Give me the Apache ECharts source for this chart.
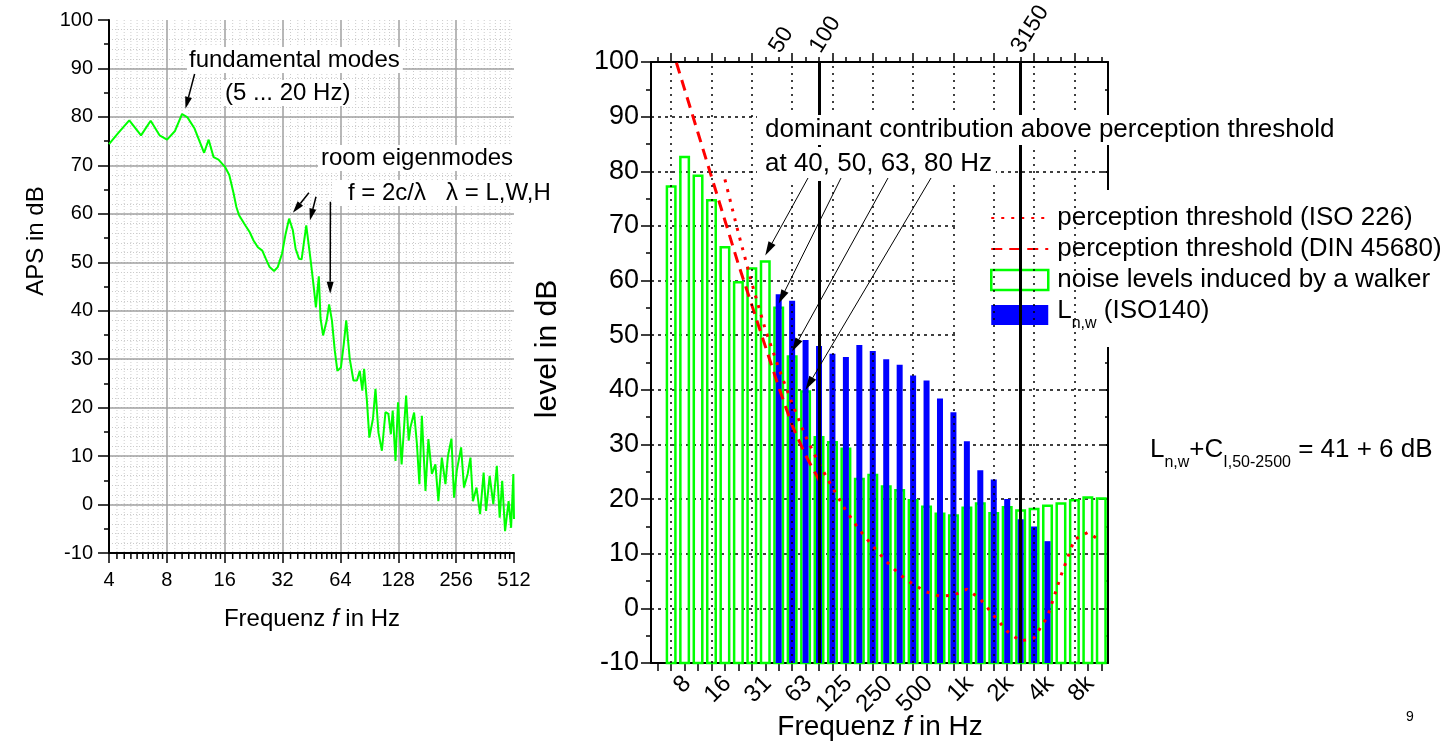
<!DOCTYPE html>
<html><head><meta charset="utf-8">
<script src="https://cdn.jsdelivr.net/npm/echarts@6/dist/echarts.min.js"></script>
<style>html,body{margin:0;padding:0;background:#fff}#c{width:1448px;height:742px}</style>
</head><body><div id="c"></div>
<script>
// ---------- Left chart: APS spectrum (frequency in Hz, level in dB) ----------
const apsFreq = [4.0,4.45,5.1,5.87,6.59,7.33,8.02,8.82,9.6,10.24,11.15,12.5,13.2,14.0,14.86,16.04,16.9,17.8,18.4,19.0,
  20.5,21.6,22.6,23.8,25.1,26.2,27.4,28.9,30.2,31.8,33.2,34.6,36.2,37.4,39.0,40.2,42.5,43.3,44.8,46.7,
  47.7,49.4,50.4,52.0,54.3,55.9,57.8,59.8,61.7,64.4,66.6,68.6,71.6,74.8,78.0,80.7,83.2,85.0,87.9,90.5,
  94.5,97.4,100.9,105.2,109.8,113.7,117.1,119.7,123.8,127.6,133.2,140.6,145,148,154.7,160,164.8,169.8,177.3,183.6,
  191.4,199.7,206.9,215.7,225.2,232,242,249.6,258,271.7,281.3,293.8,303.8,313,326.7,341,355.8,366.5,382.6,399.5,
  416.7,431.3,444.5,460,480,494.5,508,512];
const apsLevel = [74.4,76.6,79.3,76.2,79.2,76.2,75.3,77.1,80.6,79.9,77.6,72.6,75.3,71.7,71.2,69.7,68.0,64.2,61.4,59.7,
  57.6,56.2,54.5,53.1,52.4,50.7,49.0,48.2,49.0,51.8,55.9,59.0,56.6,52.8,50.7,50.6,57.6,57.8,50.4,44.2,
  40.7,47.1,38.5,34.9,38.0,41.3,38.0,31.8,27.6,28.3,33.1,38.0,30.0,25.6,25.6,27.6,23.5,28.0,21.4,13.8,
  17.7,23.9,14.9,11.1,19.1,18.7,14.5,19.4,9.0,21.1,8.3,22.5,13.2,15.9,19.0,12.5,4.2,18.3,2.8,13.5,
  6.3,8.3,0.7,9.7,4.2,10.0,13.6,1.4,7.0,11.8,3.5,6.3,9.7,0.7,3.5,-2.0,6.6,-1.3,5.9,0.1,
  8.0,-2.7,4.9,-5.5,0.7,-4.8,6.3,-3.0];
const leftOctaves = [4, 8, 16, 32, 64, 128, 256];
const leftMinorSteps = [1.1, 1.2, 1.3, 1.4, 1.5, 1.6, 1.7, 1.8, 1.9];

// ---------- Right chart: third-octave bands ----------
const bands = ['6.3','8','10','12.5','16','20','25','31.5','40','50','63','80','100','125','160','200','250','315','400','500',
  '630','800','1000','1250','1600','2000','2500','3150','4000','5000','6300','8000','10000','12500'];
const bottomTickLabels = {'8':'8','16':'16','31.5':'31','63':'63','125':'125','250':'250','500':'500','1000':'1k','2000':'2k','4000':'4k','8000':'8k'};
const topTickLabels = {'50':'50','100':'100','3150':'3150'};
const octaveBands = ['8','16','31.5','63','125','250','500','1000','2000','4000','8000'];
const markerBands = ['100','3150'];
const walkerLevels = [null,77.2,82.6,79.2,74.7,66.1,59.7,62.2,63.5,55.0,46.1,39.7,31.3,30.4,29.2,23.7,24.4,22.3,21.6,19.8,
  18.6,17.3,17.0,18.4,19.2,17.4,18.5,17.9,18.2,18.8,19.2,19.8,20.3,20.1];
const lnwLevels = [null,null,null,null,null,null,null,null,null,57.5,56.3,49.1,48.0,46.6,46.0,48.2,47.1,45.6,44.6,42.6,
  41.7,38.4,35.9,30.6,25.3,23.6,20.0,16.3,15.0,12.3,null,null,null,null];
const iso226 = [null,null,null,null,null,78.5,68.7,59.5,51.1,44.0,37.5,31.5,26.5,22.1,17.9,14.4,11.4,8.6,6.2,4.4,
  3.0,2.2,2.4,3.5,1.7,-1.3,-4.2,-6.0,-5.4,-1.5,6.0,12.6,13.9,12.3];
const din45680 = [null,103,95,87,79,71,63,55.5,48,40.5,33.5,28,23.5,null,null,null,null,null,null,null,
  null,null,null,null,null,null,null,null,null,null,null,null,null,null];

const FONT = '"Liberation Sans", Arial, Helvetica, sans-serif';
const N_ISO = 'perception threshold (ISO 226)';
const N_DIN = 'perception threshold (DIN 45680)';
const N_WALK = 'noise levels induced by a walker';
const N_LNW = 'Ln,w (ISO140)';
const GREEN = '#00ff00', BLUE = '#0000ff', RED = '#ff0000';

const chart = echarts.init(document.getElementById('c'), null, {renderer: 'canvas'});

const minorFreqs = [];
leftOctaves.forEach(o => leftMinorSteps.forEach(s => minorFreqs.push([o * s, 0])));

function barRenderer(width, filled) {
  return function (params, api) {
    const v = api.value(1);
    if (v == null || isNaN(v)) return null;
    const t = api.coord([api.value(0), v]);
    const b = api.coord([api.value(0), -10]);
    return {
      type: 'rect',
      shape: {x: t[0] - width / 2, y: t[1], width: width, height: b[1] - t[1]},
      style: filled ? {fill: BLUE, stroke: null} : {fill: 'none', stroke: GREEN, lineWidth: 2.5}
    };
  };
}

const blackAxis = {show: true, onZero: false, lineStyle: {color: '#000', width: 2}};
const noSplit = {show: false};
const hiddenSymbol = {color: 'rgba(0,0,0,0)', borderColor: 'rgba(0,0,0,0)', borderWidth: 0};

const option = {
  animation: false,
  backgroundColor: '#fff',
  textStyle: {fontFamily: FONT},
  grid: [
    {left: 109, top: 20, width: 405, height: 533, outerBoundsMode: 'none'},
    {left: 651, top: 62, width: 457, height: 601, outerBoundsMode: 'none'},
    {left: 667, top: 62, width: 457, height: 601, outerBoundsMode: 'none'},
    {left: 647, top: 62, width: 457, height: 601, outerBoundsMode: 'none'}
  ],
  legend: {
    orient: 'vertical', left: 957, top: 190, padding: [15, 10, 15, 33], itemGap: 5,
    itemWidth: 57, itemHeight: 20, backgroundColor: '#fff', selectedMode: false,
    data: [
      {name: N_ISO, itemStyle: hiddenSymbol},
      {name: N_DIN, itemStyle: hiddenSymbol},
      {name: N_WALK, icon: 'rect', itemStyle: {color: 'rgba(0,0,0,0)', borderColor: GREEN, borderWidth: 2.5}},
      {name: N_LNW, icon: 'rect', itemStyle: {color: BLUE, borderWidth: 0}}
    ],
    formatter: function (name) {
      if (name === N_LNW) return '{m|L}{s|n,w}{m2| (ISO140)}';
      return '{m|' + name + '}';
    },
    textStyle: {
      color: '#000', fontSize: 26, fontFamily: FONT,
      rich: {
        m: {fontSize: 26, fontFamily: FONT, color: '#000', verticalAlign: 'top', padding: [0, 0, 0, 4]},
        m2: {fontSize: 26, fontFamily: FONT, color: '#000', verticalAlign: 'top'},
        s: {fontSize: 16, fontFamily: FONT, color: '#000', verticalAlign: 'top', padding: [18, 0, 0, 0]}
      }
    }
  },
  xAxis: [
    { // 0 left chart log frequency axis
      type: 'log', logBase: 2, gridIndex: 0, min: 4, max: 512, position: 'bottom',
      axisLine: blackAxis,
      axisTick: {show: true, length: 10, lineStyle: {color: '#000', width: 1.5}},
      axisLabel: {fontSize: 20, color: '#000', fontFamily: FONT, margin: 17, formatter: v => String(Math.round(v))},
      splitLine: {show: true, showMinLine: false, showMaxLine: false, lineStyle: {color: '#a0a0a0', width: 1.5}},
      minorTick: {show: false}, minorSplitLine: {show: false}
    },
    { // 1 right chart bottom axis (ticks)
      type: 'category', gridIndex: 1, data: bands, position: 'bottom', boundaryGap: true,
      axisLine: blackAxis,
      axisTick: {show: true, alignWithLabel: true, interval: 0, length: 8, lineStyle: {color: '#000', width: 1.5}},
      axisLabel: {show: false}, splitLine: noSplit
    },
    { // 2 right chart top axis (short ticks)
      type: 'category', gridIndex: 1, data: bands, position: 'top', boundaryGap: true,
      axisLine: blackAxis,
      axisTick: {show: true, alignWithLabel: true, interval: 0, length: 5, lineStyle: {color: '#000', width: 1.5}},
      axisLabel: {show: false}, splitLine: noSplit
    },
    { // 3 right chart top axis (octave long ticks)
      type: 'category', gridIndex: 1, data: bands, position: 'top', boundaryGap: true,
      axisLine: {show: false, onZero: false},
      axisTick: {show: true, alignWithLabel: true, interval: (i, v) => octaveBands.indexOf(v) >= 0, length: 9, lineStyle: {color: '#000', width: 1.5}},
      axisLabel: {show: false}, splitLine: noSplit
    },
    { // 4 bottom rotated labels
      type: 'category', gridIndex: 2, data: bands, position: 'bottom', boundaryGap: true,
      axisLine: {show: false, onZero: false}, axisTick: {show: false}, splitLine: noSplit,
      axisLabel: {show: true, interval: (i, v) => v in bottomTickLabels, formatter: v => bottomTickLabels[v] || '',
        rotate: 45, margin: 17, fontSize: 24, color: '#000', fontFamily: FONT}
    },
    { // 5 top rotated labels
      type: 'category', gridIndex: 3, data: bands, position: 'top', boundaryGap: true,
      axisLine: {show: false, onZero: false}, axisTick: {show: false}, splitLine: noSplit,
      axisLabel: {show: true, interval: (i, v) => v in topTickLabels, formatter: v => topTickLabels[v] || '',
        rotate: -58, margin: 11, fontSize: 23, color: '#000', fontFamily: FONT}
    }
  ],
  yAxis: [
    { // 0 left chart level
      type: 'value', gridIndex: 0, min: -10, max: 100, interval: 10, position: 'left',
      axisLine: blackAxis,
      axisTick: {show: true, length: 11, lineStyle: {color: '#000', width: 1.5}},
      minorTick: {show: true, splitNumber: 2, length: 5, lineStyle: {color: '#000', width: 1.5}},
      axisLabel: {fontSize: 20, color: '#000', fontFamily: FONT, margin: 16},
      splitLine: {show: true, showMinLine: false, showMaxLine: false, lineStyle: {color: '#a0a0a0', width: 1.5}}
    },
    { // 1 left chart minor dotted grid
      type: 'value', gridIndex: 0, min: -10, max: 100, interval: 2, position: 'right', z: -1,
      axisLine: {show: false}, axisTick: {show: false}, axisLabel: {show: false},
      splitLine: {show: true, showMinLine: false, showMaxLine: false, lineStyle: {color: '#cccccc', width: 1, type: [1, 2]}}
    },
    { // 2 right chart level
      type: 'value', gridIndex: 1, min: -10, max: 100, interval: 10, position: 'left',
      axisLine: blackAxis,
      axisTick: {show: true, length: 10, lineStyle: {color: '#000', width: 1.5}},
      minorTick: {show: true, splitNumber: 2, length: 5, lineStyle: {color: '#000', width: 1.5}},
      axisLabel: {fontSize: 27, color: '#000', fontFamily: FONT, margin: 12},
      splitLine: {show: true, showMinLine: false, showMaxLine: false, lineStyle: {color: '#000', width: 1.5, type: [3, 4]}}
    },
    { // 3 right chart right border
      type: 'value', gridIndex: 1, min: -10, max: 100, interval: 10, position: 'right',
      axisLine: blackAxis,
      axisTick: {show: true, inside: true, length: 6, lineStyle: {color: '#000', width: 1.5}},
      minorTick: {show: true, splitNumber: 2, length: 3, lineStyle: {color: '#000', width: 1.5}},
      axisLabel: {show: false}, splitLine: noSplit
    },
    {type: 'value', gridIndex: 2, min: -10, max: 100, show: false},
    {type: 'value', gridIndex: 3, min: -10, max: 100, show: false}
  ],
  series: [
    {
      type: 'line', name: 'APS', xAxisIndex: 0, yAxisIndex: 0,
      data: apsFreq.map((f, i) => [f, apsLevel[i]]),
      symbol: 'none', lineStyle: {color: GREEN, width: 2}, itemStyle: {color: GREEN}, z: 3, silent: true
    },
    {
      type: 'custom', name: 'minor', xAxisIndex: 0, yAxisIndex: 0, data: minorFreqs, z: -1, silent: true,
      renderItem: function (params, api) {
        const f = api.value(0);
        const b = api.coord([f, -10]);
        const t = api.coord([f, 100]);
        return {type: 'group', children: [
          {type: 'line', shape: {x1: b[0], y1: t[1], x2: b[0], y2: b[1]}, style: {stroke: '#cccccc', lineWidth: 1, lineDash: [1, 2]}},
          {type: 'line', shape: {x1: b[0], y1: b[1], x2: b[0], y2: b[1] + 6}, style: {stroke: '#000', lineWidth: 1.5}}
        ]};
      }
    },
    {
      type: 'line', name: 'octaveGrid', xAxisIndex: 1, yAxisIndex: 2, data: [], z: 1, silent: true,
      markLine: {silent: true, symbol: ['none', 'none'], label: {show: false}, animation: false,
        lineStyle: {color: '#000', width: 1.5, type: [2, 5]},
        emphasis: {disabled: true},
        data: octaveBands.map(b => ({xAxis: b}))}
    },
    {
      type: 'custom', name: N_WALK, xAxisIndex: 1, yAxisIndex: 2,
      data: bands.map((b, i) => [b, walkerLevels[i]]).filter(d => d[1] != null),
      itemStyle: {color: 'rgba(0,0,0,0)', borderColor: GREEN, borderWidth: 2.5},
      renderItem: barRenderer(8.5, false), z: 2, silent: true
    },
    {
      type: 'custom', name: N_LNW, xAxisIndex: 1, yAxisIndex: 2,
      data: bands.map((b, i) => [b, lnwLevels[i]]).filter(d => d[1] != null),
      itemStyle: {color: BLUE},
      renderItem: barRenderer(6, true), z: 2, silent: true
    },
    {
      type: 'line', name: N_ISO, xAxisIndex: 1, yAxisIndex: 2, data: iso226,
      symbol: 'none', lineStyle: {color: RED, width: 3, type: [3, 7]}, itemStyle: {color: RED}, z: 3, silent: true
    },
    {
      type: 'line', name: N_DIN, xAxisIndex: 1, yAxisIndex: 2, data: din45680,
      symbol: 'none', lineStyle: {color: RED, width: 3, type: [11, 7]}, itemStyle: {color: RED}, z: 3, silent: true
    },
    {
      type: 'line', name: 'markers', xAxisIndex: 1, yAxisIndex: 2, data: [], z: 5, silent: true,
      markLine: {silent: true, symbol: ['none', 'none'], label: {show: false}, animation: false,
        lineStyle: {color: '#000', width: 3, type: 'solid'},
        emphasis: {disabled: true},
        data: markerBands.map(b => ({xAxis: b}))}
    }
  ]
};
chart.setOption(option);

// ---------- annotations ----------
function arrow(x1, y1, x2, y2, lw, hl, hw) {
  const a = Math.atan2(y2 - y1, x2 - x1);
  const bx = x2 - hl * Math.cos(a), by = y2 - hl * Math.sin(a);
  const px = -Math.sin(a) * hw, py = Math.cos(a) * hw;
  return [
    {type: 'line', z: 101, silent: true, shape: {x1: x1, y1: y1, x2: bx, y2: by}, style: {stroke: '#000', lineWidth: lw}},
    {type: 'polygon', z: 101, silent: true, shape: {points: [[x2, y2], [bx + px, by + py], [bx - px, by - py]]}, style: {fill: '#000'}}
  ];
}
function label(text, x, y, size, pad, bg, extra) {
  const st = Object.assign({text: text, x: 0, y: 0, font: size + 'px ' + FONT, fill: '#000',
    align: 'left', verticalAlign: 'middle'}, extra || {});
  if (bg) { st.backgroundColor = '#fff'; st.padding = pad; }
  return {type: 'text', x: x, y: y, z: 100, silent: true, style: st};
}
const L = {xAxisIndex: 0, yAxisIndex: 0};
const R = {xAxisIndex: 1, yAxisIndex: 2};
const leftArrowTips = [[10.0, 81.7], [36.2, 60.2], [44.4, 58.6], [56.6, 43.5]];
const leftArrowTails = [[194.6, 74], [308.9, 192.7], [316, 196.7], [330.4, 201.7]];
const rightArrowTips = [['40', 64.6], ['50', 55.8], ['63', 47], ['80', 40]];
const rightArrowTails = [[808, 178], [841, 178], [888, 178], [931, 178]];

const g = [];
g.push(label('fundamental modes', 187, 60, 24, [1, 3, 1, 2], true));
g.push(label('(5 ... 20 Hz)', 223, 93, 24, [1, 3, 1, 2], true));
g.push(label('room eigenmodes', 318, 158, 24, [1, 3, 1, 3], true));
g.push(label('f = 2c/\u03bb   \u03bb = L,W,H', 332, 193, 24, [1, 4, 1, 16], true));
g.push(label('dominant contribution above perception threshold', 757, 130, 26, [2, 6, 2, 8], true));
g.push(label('at 40, 50, 63, 80 Hz', 757, 164, 26, [3, 4, 5, 8], true));

leftArrowTips.forEach((t, i) => {
  const p = chart.convertToPixel(L, t);
  arrow(leftArrowTails[i][0], leftArrowTails[i][1], p[0], p[1], 1.5, 12, 3.5).forEach(e => g.push(e));
});
rightArrowTips.forEach((t, i) => {
  const p = chart.convertToPixel(R, t);
  arrow(rightArrowTails[i][0], rightArrowTails[i][1], p[0], p[1], 1, 14, 4).forEach(e => g.push(e));
});

// axis titles
const richTitle = s => ({
  n: {fontSize: s, fontFamily: FONT, fill: '#000'},
  i: {fontSize: s, fontFamily: FONT, fontStyle: 'italic', fill: '#000'}
});
g.push({type: 'text', x: 312, y: 619, z: 100, silent: true, style: {text: '{n|Frequenz }{i|f}{n| in Hz}', rich: richTitle(24), align: 'center', verticalAlign: 'middle'}});
g.push({type: 'text', x: 880, y: 727, z: 100, silent: true, style: {text: '{n|Frequenz }{i|f}{n| in Hz}', rich: richTitle(28), align: 'center', verticalAlign: 'middle'}});
g.push({type: 'text', x: 36, y: 241, rotation: Math.PI / 2, z: 100, silent: true, style: {text: 'APS in dB', font: '24px ' + FONT, fill: '#000', align: 'center', verticalAlign: 'middle'}});
g.push({type: 'text', x: 548, y: 349, rotation: Math.PI / 2, z: 100, silent: true, style: {text: 'level in dB', font: '30px ' + FONT, fill: '#000', align: 'center', verticalAlign: 'middle'}});

// single-number rating
g.push({type: 'text', x: 1150, y: 454, z: 100, silent: true, style: {
  text: '{m|L}{s|n,w}{m|+C}{s|I,50-2500}{m| = 41 + 6 dB}', align: 'left', verticalAlign: 'middle',
  rich: {
    m: {fontSize: 26, fontFamily: FONT, fill: '#000', verticalAlign: 'top'},
    s: {fontSize: 16, fontFamily: FONT, fill: '#000', verticalAlign: 'top', padding: [18, 0, 0, 0]}
  }}});
g.push(label('9', 1406, 717, 14, null, false));

chart.setOption({graphic: {elements: g}});
</script>
</body></html>
